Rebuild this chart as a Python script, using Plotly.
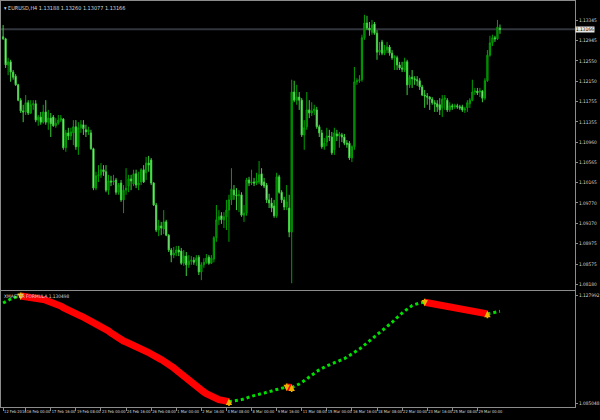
import plotly.graph_objects as go

symbol = "EURUSD,H4"
ind_name = "XMASTER FORMULA"
ind_label_value = "1.130498"

open_ = [1.1302,1.1298,1.1247,1.1253,1.1233,1.1225,1.1208,1.1178,1.1157,1.1155,
1.1173,1.1153,1.1169,1.1171,1.1139,1.1145,1.1135,1.1155,1.1135,1.1143,
1.1145,1.1128,1.1133,1.1139,1.1141,1.1085,1.1114,1.1108,1.1114,1.1126,
1.1087,1.1124,1.1130,1.1120,1.1116,1.1114,1.1083,1.1006,1.1030,1.1032,
1.1042,1.1038,1.1002,1.1020,1.1018,1.1022,1.0998,1.1016,1.0983,1.1002,
1.1010,1.1024,1.1014,1.1034,1.1012,1.1018,1.1042,1.1036,1.1055,1.1061,
1.1016,1.0973,1.0924,1.0932,1.0926,1.0940,1.0914,1.0885,1.0875,1.0879,
1.0885,1.0883,1.0859,1.0873,1.0856,1.0863,1.0865,1.0863,1.0871,1.0842,
1.0856,1.0861,1.0871,1.0859,1.0867,1.0909,1.0944,1.0952,1.0944,1.0950,
1.0963,1.0983,1.1002,1.0993,1.0991,1.0993,1.0953,1.0957,1.1022,1.1016,
1.1018,1.1016,1.1018,1.1034,1.1018,1.1012,1.0983,1.0977,1.0971,1.0952,
1.1028,1.0998,1.0983,1.0969,1.0967,1.0920,1.1194,1.1178,1.1184,1.1178,
1.1110,1.1126,1.1159,1.1153,1.1157,1.1159,1.1126,1.1114,1.1087,1.1096,
1.1108,1.1106,1.1081,1.1112,1.1108,1.1110,1.1106,1.1094,1.1094,1.1065,
1.1087,1.1214,1.1216,1.1218,1.1300,1.1329,1.1319,1.1311,1.1327,1.1309,
1.1272,1.1292,1.1270,1.1276,1.1282,1.1270,1.1261,1.1261,1.1247,1.1241,
1.1237,1.1253,1.1208,1.1223,1.1220,1.1218,1.1216,1.1204,1.1188,1.1186,
1.1184,1.1180,1.1173,1.1171,1.1169,1.1163,1.1180,1.1178,1.1159,1.1167,
1.1165,1.1167,1.1165,1.1165,1.1159,1.1163,1.1171,1.1178,1.1194,1.1196,
1.1194,1.1196,1.1182,1.1216,1.1266,1.1290,1.1300,1.1298,1.13188]

high = [1.1325,1.1300,1.1261,1.1257,1.1237,1.1229,1.1210,1.1182,1.1169,1.1188,
1.1178,1.1178,1.1178,1.1178,1.1149,1.1155,1.1169,1.1178,1.1159,1.1153,
1.1149,1.1143,1.1149,1.1149,1.1143,1.1120,1.1124,1.1124,1.1139,1.1139,
1.1135,1.1139,1.1139,1.1130,1.1126,1.1120,1.1085,1.1038,1.1051,1.1055,
1.1051,1.1051,1.1032,1.1030,1.1032,1.1026,1.1016,1.1022,1.1012,1.1045,
1.1032,1.1032,1.1042,1.1042,1.1038,1.1045,1.1051,1.1067,1.1069,1.1065,
1.1018,1.0977,1.0944,1.0940,1.0963,1.0944,1.0916,1.0889,1.0891,1.0893,
1.0893,1.0889,1.0885,1.0881,1.0875,1.0873,1.0871,1.0875,1.0875,1.0861,
1.0869,1.0877,1.0875,1.0875,1.0912,1.0973,1.0963,1.0959,1.0959,1.0983,
1.0993,1.1045,1.1012,1.1006,1.1002,1.0998,1.0973,1.1026,1.1028,1.1042,
1.1026,1.1036,1.1059,1.1045,1.1026,1.1016,1.0995,1.0987,1.0983,1.1036,
1.1032,1.1002,1.0989,1.1012,1.0993,1.1218,1.1216,1.1208,1.1194,1.1182,
1.1139,1.1194,1.1178,1.1174,1.1169,1.1165,1.1130,1.1120,1.1104,1.1124,
1.1120,1.1116,1.1124,1.1120,1.1116,1.1114,1.1112,1.1100,1.1098,1.1090,
1.1243,1.1221,1.1227,1.1306,1.1345,1.1343,1.1331,1.1335,1.1331,1.1315,
1.1292,1.1296,1.1286,1.1292,1.1286,1.1276,1.1266,1.1265,1.1253,1.1253,
1.1261,1.1257,1.1227,1.1237,1.1225,1.1225,1.1221,1.1208,1.1198,1.1192,
1.1186,1.1184,1.1178,1.1178,1.1182,1.1188,1.1188,1.1182,1.1174,1.1171,
1.1171,1.1171,1.1169,1.1169,1.1165,1.1178,1.1182,1.1218,1.1202,1.1202,
1.1202,1.1198,1.1221,1.1276,1.1304,1.1306,1.1304,1.1335,1.13260]

low = [1.1296,1.1241,1.1227,1.1214,1.1218,1.1206,1.1176,1.1153,1.1135,1.1149,
1.1149,1.1151,1.1159,1.1135,1.1128,1.1130,1.1132,1.1130,1.1120,1.1106,
1.1126,1.1124,1.1130,1.1135,1.1081,1.1077,1.1100,1.1100,1.1090,1.1081,
1.1071,1.1114,1.1110,1.1106,1.1110,1.1081,1.1002,1.1002,1.1018,1.1026,
1.1030,1.0998,1.0993,1.1010,1.1012,1.0993,1.0993,1.0979,1.0957,1.0993,
1.0998,1.1002,1.1010,1.1006,1.1002,1.1012,1.1016,1.1022,1.1038,1.1012,
1.0971,1.0920,1.0912,1.0914,1.0916,1.0912,1.0881,1.0861,1.0869,1.0873,
1.0873,1.0856,1.0854,1.0834,1.0850,1.0856,1.0856,1.0854,1.0836,1.0826,
1.0850,1.0858,1.0856,1.0858,1.0861,1.0901,1.0934,1.0936,1.0928,1.0924,
1.0901,1.0973,1.0983,1.0963,1.0959,1.0950,1.0940,1.0952,1.1010,1.1012,
1.1010,1.1012,1.1014,1.1010,1.1006,1.0977,1.0967,1.0959,1.0948,1.0948,
1.0995,1.0977,1.0963,1.0963,1.0910,1.0820,1.1174,1.1169,1.1159,1.1106,
1.1081,1.1120,1.1143,1.1147,1.1149,1.1122,1.1106,1.1083,1.1081,1.1088,
1.1098,1.1071,1.1071,1.1098,1.1085,1.1096,1.1090,1.1085,1.1061,1.1057,
1.1081,1.1208,1.1212,1.1214,1.1296,1.1315,1.1304,1.1306,1.1306,1.1257,
1.1266,1.1266,1.1266,1.1270,1.1265,1.1257,1.1237,1.1237,1.1237,1.1233,
1.1233,1.1188,1.1202,1.1202,1.1208,1.1206,1.1198,1.1186,1.1163,1.1169,
1.1159,1.1169,1.1155,1.1155,1.1149,1.1145,1.1159,1.1155,1.1155,1.1159,
1.1161,1.1161,1.1159,1.1155,1.1153,1.1155,1.1163,1.1176,1.1188,1.1188,
1.1184,1.1174,1.1178,1.1214,1.1263,1.1284,1.1292,1.1296,1.13077]

close = [1.1298,1.1247,1.1253,1.1233,1.1223,1.1208,1.1178,1.1157,1.1155,1.1173,
1.1153,1.1169,1.1171,1.1139,1.1145,1.1135,1.1155,1.1135,1.1143,1.1132,
1.1128,1.1133,1.1139,1.1143,1.1085,1.1114,1.1108,1.1116,1.1126,1.1087,
1.1124,1.1130,1.1122,1.1116,1.1120,1.1083,1.1006,1.1030,1.1032,1.1042,
1.1038,1.1002,1.1020,1.1018,1.1020,1.0998,1.1012,1.0983,1.1002,1.1006,
1.1024,1.1020,1.1034,1.1012,1.1016,1.1042,1.1018,1.1055,1.1051,1.1016,
1.0973,1.0924,1.0932,1.0928,1.0940,1.0914,1.0885,1.0875,1.0879,1.0885,
1.0881,1.0859,1.0873,1.0856,1.0863,1.0865,1.0861,1.0869,1.0842,1.0856,
1.0861,1.0869,1.0859,1.0869,1.0909,1.0944,1.0950,1.0944,1.0950,1.0963,
1.0983,1.1004,1.0993,1.0991,1.0993,1.0953,1.0957,1.1022,1.1016,1.1018,
1.1016,1.1020,1.1032,1.1012,1.1010,1.0983,1.0977,1.0967,1.0952,1.1028,
1.0998,1.0983,1.0969,1.0979,1.0920,1.1194,1.1178,1.1184,1.1178,1.1110,
1.1124,1.1159,1.1153,1.1157,1.1161,1.1126,1.1114,1.1087,1.1094,1.1108,
1.1106,1.1075,1.1114,1.1108,1.1112,1.1106,1.1094,1.1092,1.1065,1.1087,
1.1214,1.1216,1.1218,1.1300,1.1329,1.1319,1.1315,1.1325,1.1309,1.1272,
1.1276,1.1270,1.1276,1.1282,1.1270,1.1261,1.1263,1.1247,1.1241,1.1239,
1.1253,1.1208,1.1223,1.1220,1.1218,1.1216,1.1204,1.1188,1.1186,1.1184,
1.1180,1.1173,1.1171,1.1165,1.1159,1.1180,1.1182,1.1159,1.1167,1.1165,
1.1167,1.1165,1.1163,1.1159,1.1161,1.1173,1.1178,1.1194,1.1196,1.1192,
1.1196,1.1182,1.1216,1.1266,1.1290,1.1300,1.1298,1.1321,1.13166]

indicator = [1.1250,1.1256,1.1262,1.1266,1.1270,1.1274,1.1276,1.1278,1.1277,1.1276,
1.1275,1.1274,1.1272,1.1270,1.1268,1.1266,1.1264,1.1261,1.1258,1.1254,
1.1250,1.1246,1.1242,1.1238,1.1232,1.1226,1.1222,1.1216,1.1210,1.1206,
1.1202,1.1198,1.1194,1.1189,1.1183,1.1179,1.1175,1.1169,1.1163,1.1157,
1.1151,1.1145,1.1139,1.1131,1.1123,1.1117,1.1111,1.1105,1.1099,1.1095,
1.1091,1.1085,1.1079,1.1075,1.1071,1.1067,1.1063,1.1059,1.1053,1.1047,
1.1043,1.1037,1.1031,1.1025,1.1019,1.1014,1.1008,1.1000,1.0992,1.0984,
1.0976,1.0966,1.0956,1.0946,1.0936,1.0928,1.0920,1.0914,1.0908,1.0902,
1.0896,1.0890,1.0884,1.0878,1.0874,1.0870,1.0866,1.0864,1.0862,1.0860,
1.0858,1.0859,1.0860,1.0862,1.0864,1.0866,1.0868,1.0872,1.0876,1.0880,
1.0882,1.0884,1.0888,1.0890,1.0892,1.0896,1.0898,1.0900,1.0904,1.0906,
1.0908,1.0912,1.0914,1.0916,1.0915,1.0914,1.0918,1.0922,1.0928,1.0934,
1.0940,1.0948,1.0956,1.0964,1.0972,1.0978,1.0984,1.0990,1.0996,1.1000,
1.1004,1.1008,1.1012,1.1016,1.1020,1.1023,1.1029,1.1035,1.1041,1.1047,
1.1053,1.1059,1.1067,1.1075,1.1083,1.1091,1.1099,1.1107,1.1115,1.1123,
1.1131,1.1139,1.1147,1.1155,1.1163,1.1173,1.1183,1.1193,1.1202,1.1210,
1.1218,1.1226,1.1234,1.1240,1.1244,1.1248,1.1250,1.1252,1.1253,1.1251,
1.1248,1.1246,1.1244,1.1242,1.1240,1.1238,1.1236,1.1234,1.1232,1.1230,
1.1228,1.1224,1.1222,1.1220,1.1218,1.1216,1.1214,1.1213,1.1212,1.1211,
1.1210,1.1209,1.1208,1.1207,1.1209,1.1211,1.1213,1.1215,1.1217]

down_idx = [7, 113, 168]
up_idx = [90, 115, 193]

tick_bars = [0, 9, 19, 29, 39, 49, 59, 69, 79, 89, 99, 109, 119, 129, 139, 149, 159, 169, 179, 189]
tick_labels = ["12 Feb 2016", "16 Feb 00:00", "17 Feb 16:00", "19 Feb 08:00", "23 Feb 00:00",
               "24 Feb 16:00", "26 Feb 08:00", "1 Mar 00:00", "2 Mar 16:00", "4 Mar 08:00",
               "8 Mar 00:00", "9 Mar 16:00", "11 Mar 08:00", "15 Mar 00:00", "16 Mar 16:00",
               "18 Mar 08:00", "22 Mar 00:00", "23 Mar 16:00", "25 Mar 08:00", "29 Mar 00:00"]
price_ticks = [1.13345, 1.12945, 1.12550, 1.12150, 1.11755, 1.11355, 1.10960,
               1.10565, 1.10165, 1.09770, 1.09370, 1.08975, 1.08575, 1.08180]
ind_ticks = [1.127992, 1.085048]

n = len(close)
xs = list(range(n))
FONT = "Liberation Sans Narrow, DejaVu Sans Condensed, Liberation Sans, Arial, sans-serif"
AXC = "#8c8c8c"
TXT = "#d8d8d8"
FS = 4.8
FSX = 4.0

fig = go.Figure()

fig.add_trace(go.Candlestick(
    x=xs, open=open_, high=high, low=low, close=close,
    increasing=dict(line=dict(color="#00a000", width=1), fillcolor="#006400"),
    decreasing=dict(line=dict(color="#3ccf3c", width=1), fillcolor="#e8ffe8"),
    whiskerwidth=0, showlegend=False, hoverinfo="skip",
    xaxis="x", yaxis="y"))

falling = [i > 0 and indicator[i] < indicator[i - 1] for i in range(n)]
red_y, green_y = [], []
for i in range(n):
    nxt_f = (i + 1 < n and falling[i + 1])
    nxt_r = (i + 1 < n and not falling[i + 1])
    red_y.append(indicator[i] if (falling[i] or nxt_f) else None)
    green_y.append(indicator[i] if ((not falling[i]) or nxt_r) else None)

fig.add_trace(go.Scatter(x=xs, y=green_y, mode="lines",
                         line=dict(color="#00e000", width=3, dash="dot"),
                         connectgaps=False, showlegend=False, hoverinfo="skip",
                         xaxis="x2", yaxis="y2"))
fig.add_trace(go.Scatter(x=xs, y=red_y, mode="lines",
                         line=dict(color="#ff0000", width=7),
                         connectgaps=False, showlegend=False, hoverinfo="skip",
                         xaxis="x2", yaxis="y2"))

annotations = []
for i in down_idx:
    annotations.append(dict(x=i, y=indicator[i], xref="x2", yref="y2", text="",
                            showarrow=True, arrowhead=2, arrowsize=0.8, arrowwidth=1.6,
                            arrowcolor="#f0b000", ax=0, ay=-9, yshift=-4))
for i in up_idx:
    annotations.append(dict(x=i, y=indicator[i], xref="x2", yref="y2", text="",
                            showarrow=True, arrowhead=2, arrowsize=0.8, arrowwidth=1.6,
                            arrowcolor="#f0b000", ax=0, ay=9, yshift=3))

annotations.append(dict(
    x=0, xref="paper", xanchor="left", xshift=1,
    y=1, yref="paper", yanchor="top", yshift=-2,
    text=f"\u25be {symbol} {open_[-1]:.5f} {high[-1]:.5f} {low[-1]:.5f} {close[-1]:.5f}",
    showarrow=False, font=dict(size=5.5, color=TXT, family=FONT)))
annotations.append(dict(
    x=0, xref="paper", xanchor="left", xshift=1,
    y=1, yref="y2 domain", yanchor="top", yshift=-1,
    text=f"{ind_name} {ind_label_value}",
    showarrow=False, font=dict(size=FS, color=TXT, family=FONT)))
annotations.append(dict(
    x=1, xref="paper", xanchor="left", xshift=0,
    y=close[-1], yref="y", yanchor="middle",
    text=f"{close[-1]:.5f}", showarrow=False, bgcolor="#e6e6e6", borderpad=0,
    font=dict(size=FS, color="#000000", family=FONT)))

shapes = [dict(type="line", xref="paper", x0=0, x1=1, yref="y",
               y0=close[-1], y1=close[-1], line=dict(color="#30363b", width=2),
               layer="below")]

xr = [-0.84, 227.9]
common_axis = dict(showgrid=False, zeroline=False, showline=True, mirror=True,
                   linecolor=AXC, linewidth=1)

fig.update_layout(
    width=600, height=420,
    margin=dict(l=0, r=19, t=1, b=13),
    paper_bgcolor="#000000", plot_bgcolor="#000000",
    showlegend=False,
    font=dict(family=FONT, size=FS, color=TXT),
    annotations=annotations, shapes=shapes,
    xaxis=dict(domain=[0, 1], range=xr, anchor="y", showticklabels=False, ticks="",
               rangeslider=dict(visible=False), **common_axis),
    yaxis=dict(domain=[0.2894, 1], range=[1.08077, 1.13720], side="right",
               tickvals=price_ticks, ticktext=[f"{v:.5f}" for v in price_ticks],
               ticks="outside", ticklen=2, tickcolor=AXC,
               tickfont=dict(size=FS, color=TXT, family=FONT), **common_axis),
    xaxis2=dict(domain=[0, 1], range=xr, anchor="y2", matches="x",
                tickvals=tick_bars, ticktext=tick_labels, tickangle=0,
                ticks="outside", ticklen=3, tickcolor=AXC,
                ticklabelposition="outside right",
                tickfont=dict(size=FSX, color=TXT, family=FONT), **common_axis),
    yaxis2=dict(domain=[0, 0.2857], range=[1.08366, 1.12978], side="right",
                tickvals=ind_ticks, ticktext=[f"{v:.6f}" for v in ind_ticks],
                ticks="outside", ticklen=2, tickcolor=AXC,
                tickfont=dict(size=FS, color=TXT, family=FONT), **common_axis),
)

fig.write_html("out.html",
               config={"displayModeBar": False, "staticPlot": True},
               post_script="document.body.style.margin='0';document.body.style.background='#000';")
